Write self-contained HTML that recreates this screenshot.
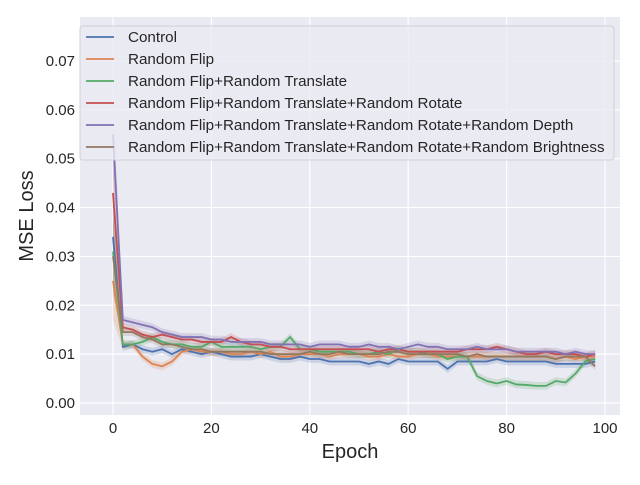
<!DOCTYPE html>
<html><head><meta charset="utf-8"><style>
body{margin:0;background:#fff;font-family:"Liberation Sans",sans-serif;}
svg text{font-family:"Liberation Sans",sans-serif;fill:#262626;}
</style></head><body>
<svg id="chart" width="640" height="480" viewBox="0 0 640 480" xmlns="http://www.w3.org/2000/svg">
<rect x="0" y="0" width="640" height="480" fill="#fff"/>
<rect x="80" y="17" width="540" height="398" fill="#eaeaf2"/>
<g id="grid"></g>
<g id="bands"></g>
<g id="lines"></g>
<g id="ticks"></g>
<text x="350" y="458" font-size="20" text-anchor="middle">Epoch</text>
<text transform="translate(33,216) rotate(-90)" font-size="20" text-anchor="middle">MSE Loss</text>
<g id="legend"></g>
</svg>
<script>
const seriesNames = ["Control","Random Flip","Random Flip+Random Translate","Random Flip+Random Translate+Random Rotate","Random Flip+Random Translate+Random Rotate+Random Depth","Random Flip+Random Translate+Random Rotate+Random Brightness"];
const seriesColors = ["#4c72b0","#dd8452","#55a868","#c44e52","#8172b3","#937860"];
const control = [34,11.5,12,11,10.5,11,10,11,10.5,10,10.5,10,9.5,9.5,9.5,10,9.5,9,9,9.5,9,9,8.5,8.5,8.5,8.5,8,8.5,8,9,8.5,8.5,8.5,8.5,7,8.5,8.5,8.5,8.5,9,8.5,8.5,8.5,8.5,8.5,8,8,8,8,8.5];
const flip = [25,12,12,9.5,8,7.5,8.5,10.5,11,10.5,10.5,10.5,10,10,10.5,10,10.5,9.5,9.5,10,10,10,9.5,10,10,10,9.5,9.5,10,9.5,9.5,10,10,9.5,9.5,9.5,9.5,9.5,9.5,9.5,9.5,9.5,9.5,9.5,9.5,9,9.5,9,9.5,9.5];
const translate = [31,12,12,12.5,13.5,12.5,12,12,11.5,11.5,12.5,11.5,11.5,11.5,11.5,11,11.5,11.5,13.5,11,11,10.5,10.5,10.5,10.5,10,10,10.5,10,11,10.5,10.5,10,10,9,9.5,9.5,5.5,4.5,4,4.5,3.8,3.7,3.5,3.5,4.5,4.2,6,8.5,9];
const rotate = [43,15.5,15,14,13.5,14,13.5,13,13,12.5,12.5,12.5,13.5,12.5,12,12,11.5,11.5,11,11,11,11,11,11,11,11,11,10.5,11,11,10.5,10.5,10.5,10.5,10.5,10.5,11,11,11,11.5,11,10.5,10,10,10.5,10,10,10,9.5,10];
const depth = [55,17,16.5,16,15.5,14.5,14,13.5,13.5,13.5,13,13,12.5,12.5,12.5,12.5,12,12,12,12,11.5,12,12,12,11.5,11.5,12,11.5,11.5,11,11.5,12,11.5,11.5,11,11,11,11.5,11,11,11,10.5,10.5,10.5,10.5,10.5,10,10.5,10,10];
const brightness = [30,14.5,14.5,13.5,13,12,12,11.5,11,11,10.5,10.5,10.5,10.5,10.5,10.5,10,10,10,10,10.5,10,10,10.5,10,10,10,10,10.5,10.5,10,10,10,10,10,10,9.5,10,9.5,9.5,9.5,9.5,9.5,9.5,9.5,9,9.5,9.5,9.5,7.5];
const allSeries = [control,flip,translate,rotate,depth,brightness];
const xTicks = [0,20,40,60,80,100];
const yTicks = [0,0.01,0.02,0.03,0.04,0.05,0.06,0.07];
const yTickLabels = ["0.00","0.01","0.02","0.03","0.04","0.05","0.06","0.07"];
const epochStep = 2;

const NS="http://www.w3.org/2000/svg";
function xs(v){return 113+v*4.92;}
function ys(v){return 403-v*4886;}
function mk(tag,attrs,parent){const e=document.createElementNS(NS,tag);for(const k in attrs)e.setAttribute(k,attrs[k]);parent.appendChild(e);return e;}
const grid=document.getElementById('grid'),ticks=document.getElementById('ticks');
xTicks.forEach(t=>{
  const l=mk('line',{x1:xs(t),x2:xs(t),y1:17,y2:415,stroke:'#fff','stroke-width':1.2},grid);
  
  
  const tx=mk('text',{x:xs(t),y:433,'font-size':15,'text-anchor':'middle'},ticks);
  tx.textContent=t;
  
  
});
yTicks.forEach((t,i)=>{
  const l=mk('line',{x1:80,x2:620,y1:ys(t),y2:ys(t),stroke:'#fff','stroke-width':1.2},grid);
  
  
  const tx=mk('text',{x:75,y:ys(t)+5,'font-size':15,'text-anchor':'end'},ticks);
  tx.textContent=yTickLabels[i];
  
  
});
const bands=document.getElementById('bands'),lines=document.getElementById('lines');
allSeries.forEach((s,si)=>{
  const up=s.map((v,i)=>xs(i*epochStep)+','+ys((v+ (i==0?8:0.8))/1000));
  const dn=s.map((v,i)=>xs(i*epochStep)+','+ys((v-(i==0?8:0.8))/1000)).reverse();
  const b=mk('polygon',{points:up.concat(dn).join(' '),fill:seriesColors[si],opacity:0.2,stroke:'none'},bands);
  
  
  const p=mk('polyline',{points:s.map((v,i)=>xs(i*epochStep)+','+ys(v/1000)).join(' '),fill:'none',stroke:seriesColors[si],'stroke-width':1.8},lines);
  
  
});
const lg=document.getElementById('legend');
const box=mk('rect',{x:80,y:26,width:534,height:134,rx:3,fill:'#eaeaf2','fill-opacity':0.8,stroke:'#d0d0d8'},lg);


seriesNames.forEach((n,i)=>{
  const y=37+i*22;
  const l=mk('line',{x1:86,x2:114,y1:y,y2:y,stroke:seriesColors[i],'stroke-width':1.8},lg);
  
  
  const t=mk('text',{x:128,y:y+5,'font-size':15.2},lg);
  t.textContent=n;
  
  
});
</script>
</body></html>
